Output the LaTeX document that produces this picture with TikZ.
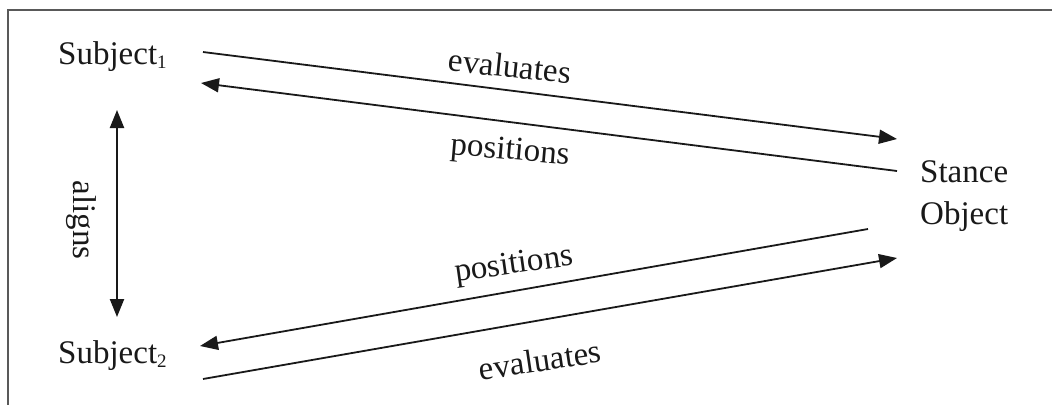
\documentclass[tikz,border=0pt]{standalone}
\usepackage{fontspec}
\setmainfont{Liberation Serif}
\usetikzlibrary{arrows.meta}
\newcommand\lowsub[1]{\raisebox{-4pt}{\fontsize{19}{20}\selectfont #1}}
\begin{document}
\begin{tikzpicture}[x=1pt,y=-1pt,
  lbl/.style={font=\fontsize{33}{42}\selectfont, inner sep=0pt, text=black!90},
  conn/.style={line width=1.8pt, draw=black!90, -{Triangle[length=18pt,width=14pt]}},
  twoway/.style={line width=2.2pt, draw=black!90, {Triangle[length=18pt,width=14pt]}-{Triangle[length=18pt,width=14pt]}},
  frame/.style={line width=1.5pt, draw=black!65}]
\useasboundingbox (0,0) rectangle (1052,405);
\draw[frame] (1052,10) -- (8,10) -- (8,405);

% nodes
\node[lbl, anchor=base west] (s1) at (58,64) {Subject\lowsub{1}};
\node[lbl, anchor=base west] (s2) at (58,363) {Subject\lowsub{2}};
\node[lbl, anchor=north west, align=left] (so) at (920,160) {Stance\\Object};

% connector end points
\coordinate (e1a) at (203,52);
\coordinate (e1b) at (897,139);
\coordinate (p1a) at (897,171);
\coordinate (p1b) at (201,83);
\coordinate (p2a) at (868,229);
\coordinate (p2b) at (200,346);
\coordinate (e2a) at (203,379);
\coordinate (e2b) at (897,258);
\coordinate (ala) at (117,110);
\coordinate (alb) at (117,317);

\draw[conn] (e1a) -- (e1b);
\draw[conn] (p1a) -- (p1b);
\draw[conn] (p2a) -- (p2b);
\draw[conn] (e2a) -- (e2b);
\draw[twoway] (ala) -- (alb);

% labels
\node[lbl, rotate=-6] (l1) at (510,66) {evaluates};
\node[lbl, rotate=-5] (l2) at (510,152) {positions};
\node[lbl, rotate=8] (l3) at (514,266) {positions};
\node[lbl, rotate=8.5] (l4) at (540,360) {evaluates};
\node[lbl, rotate=-90] (l5) at (81,220) {aligns};
\end{tikzpicture}
\end{document}
